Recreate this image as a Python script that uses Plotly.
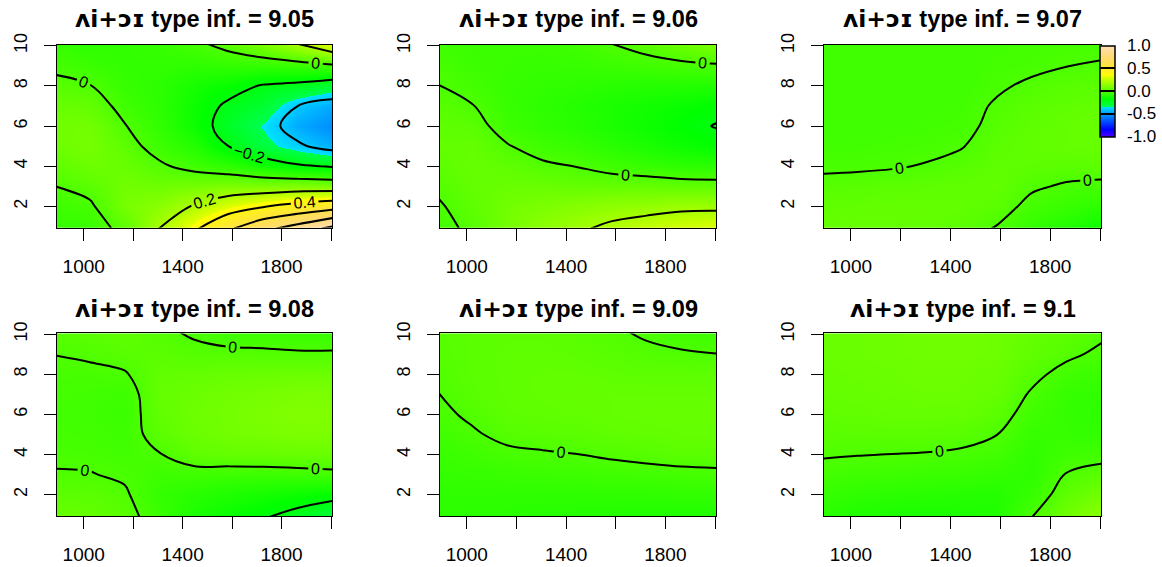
import colorsys
import plotly.graph_objects as go

# Grid on which the fitted surfaces are tabulated
x_vals = [885, 1025, 1165, 1305, 1445, 1585, 1725, 1865, 2005]
y_vals = [0.9, 2, 3, 4, 5, 6, 7, 8, 9, 10.1]

title_prefix = "ʌi+ɔɪ"
title_values = ["9.05", "9.06", "9.07", "9.08", "9.09", "9.1"]

# rows follow y_vals, columns follow x_vals
z_905 = [
    [-0.06, -0.05, 0.03, 0.20, 0.37, 0.57, 0.75, 0.88, 1.05],
    [-0.035, -0.015, 0.09, 0.13, 0.21, 0.31, 0.39, 0.46, 0.52],
    [0.00, 0.03, 0.08, 0.07, 0.086, 0.10, 0.10, 0.11, 0.10],
    [0.04, 0.07, 0.06, 0.015, -0.03, -0.067, -0.125, -0.18, -0.21],
    [0.07, 0.09, 0.035, -0.035, -0.09, -0.20, -0.30, -0.38, -0.45],
    [0.08, 0.08, 0.005, -0.06, -0.14, -0.25, -0.34, -0.46, -0.53],
    [0.06, 0.05, -0.03, -0.07, -0.14, -0.22, -0.27, -0.40, -0.46],
    [0.025, 0.003, -0.05, -0.07, -0.12, -0.155, -0.21, -0.23, -0.28],
    [-0.02, -0.04, -0.06, -0.06, -0.07, -0.06, -0.06, -0.05, -0.02],
    [-0.05, -0.07, -0.06, -0.05, -0.02, 0.03, 0.10, 0.20, 0.33],
]
z_906 = [
    [-0.03, 0.02, 0.09, 0.14, 0.18, 0.23, 0.27, 0.30, 0.32],
    [-0.01, 0.04, 0.08, 0.10, 0.12, 0.14, 0.15, 0.17, 0.17],
    [0.015, 0.05, 0.06, 0.06, 0.05, 0.05, 0.05, 0.04, 0.04],
    [0.035, 0.055, 0.04, 0.015, -0.002, -0.03, -0.05, -0.07, -0.08],
    [0.045, 0.05, 0.005, -0.035, -0.05, -0.08, -0.11, -0.14, -0.16],
    [0.04, 0.03, -0.035, -0.06, -0.08, -0.11, -0.14, -0.17, -0.205],
    [0.025, 0.002, -0.05, -0.07, -0.09, -0.11, -0.13, -0.15, -0.17],
    [0.001, -0.02, -0.05, -0.06, -0.07, -0.08, -0.09, -0.09, -0.10],
    [-0.015, -0.035, -0.045, -0.05, -0.05, -0.04, -0.03, -0.02, -0.01],
    [-0.03, -0.04, -0.04, -0.04, -0.03, 0.0, 0.03, 0.07, 0.10],
]
z_907 = [
    [0.05, 0.055, 0.05, 0.045, 0.03, -0.005, -0.06, -0.10, -0.15],
    [0.04, 0.045, 0.05, 0.05, 0.045, 0.03, -0.02, -0.045, -0.07],
    [0.02, 0.025, 0.03, 0.035, 0.04, 0.045, 0.01, -0.008, -0.018],
    [-0.012, -0.01, -0.005, 0.004, 0.02, 0.04, 0.035, 0.03, 0.035],
    [-0.025, -0.025, -0.02, -0.015, -0.003, 0.03, 0.045, 0.05, 0.055],
    [-0.03, -0.03, -0.028, -0.025, -0.02, 0.02, 0.04, 0.05, 0.06],
    [-0.03, -0.03, -0.03, -0.03, -0.025, 0.008, 0.03, 0.04, 0.05],
    [-0.03, -0.03, -0.03, -0.03, -0.03, -0.01, 0.012, 0.025, 0.03],
    [-0.03, -0.03, -0.03, -0.03, -0.03, -0.02, -0.015, -0.001, 0.007],
    [-0.03, -0.03, -0.03, -0.03, -0.03, -0.025, -0.02, -0.015, -0.02],
]
z_908 = [
    [0.06, 0.05, 0.03, -0.04, -0.11, -0.15, -0.19, -0.24, -0.30],
    [0.035, 0.03, 0.01, -0.055, -0.08, -0.10, -0.12, -0.14, -0.16],
    [0.005, 0.003, -0.01, -0.035, -0.03, -0.035, -0.035, -0.03, -0.02],
    [-0.012, -0.015, -0.025, -0.004, 0.04, 0.05, 0.055, 0.06, 0.06],
    [-0.02, -0.025, -0.035, 0.03, 0.065, 0.08, 0.09, 0.10, 0.10],
    [-0.022, -0.03, -0.04, 0.045, 0.07, 0.085, 0.10, 0.115, 0.11],
    [-0.02, -0.025, -0.035, 0.05, 0.065, 0.08, 0.09, 0.10, 0.10],
    [-0.014, -0.015, -0.006, 0.045, 0.05, 0.06, 0.065, 0.07, 0.07],
    [0.001, 0.01, 0.025, 0.03, 0.02, 0.02, 0.015, 0.01, 0.01],
    [0.02, 0.03, 0.04, 0.015, -0.01, -0.04, -0.04, -0.05, -0.05],
]
z_909 = [
    [-0.07, -0.075, -0.08, -0.085, -0.09, -0.095, -0.10, -0.10, -0.10],
    [-0.065, -0.065, -0.065, -0.065, -0.065, -0.065, -0.065, -0.06, -0.06],
    [-0.055, -0.05, -0.045, -0.04, -0.035, -0.03, -0.025, -0.02, -0.015],
    [-0.045, -0.03, -0.015, -0.007, -0.001, 0.01, 0.02, 0.03, 0.03],
    [-0.03, -0.008, 0.018, 0.025, 0.03, 0.04, 0.045, 0.05, 0.05],
    [-0.015, 0.012, 0.035, 0.04, 0.045, 0.05, 0.055, 0.055, 0.055],
    [-0.001, 0.025, 0.04, 0.045, 0.05, 0.05, 0.05, 0.05, 0.05],
    [0.01, 0.03, 0.04, 0.045, 0.045, 0.04, 0.035, 0.035, 0.035],
    [0.015, 0.03, 0.04, 0.04, 0.035, 0.025, 0.015, 0.008, 0.001],
    [0.02, 0.03, 0.035, 0.035, 0.025, 0.01, -0.01, -0.03, -0.04],
]
z_910 = [
    [-0.08, -0.10, -0.11, -0.115, -0.11, -0.10, -0.002, 0.08, 0.14],
    [-0.05, -0.065, -0.075, -0.08, -0.085, -0.09, -0.05, 0.04, 0.08],
    [-0.02, -0.03, -0.035, -0.04, -0.045, -0.055, -0.07, 0.004, 0.03],
    [0.005, 0.002, -0.001, -0.004, -0.012, -0.025, -0.065, -0.03, -0.025],
    [0.025, 0.03, 0.03, 0.03, 0.025, 0.001, -0.05, -0.05, -0.06],
    [0.04, 0.045, 0.05, 0.05, 0.05, 0.03, -0.03, -0.055, -0.07],
    [0.05, 0.055, 0.06, 0.065, 0.065, 0.05, -0.008, -0.05, -0.065],
    [0.055, 0.06, 0.065, 0.07, 0.07, 0.06, 0.02, -0.025, -0.045],
    [0.06, 0.065, 0.07, 0.075, 0.075, 0.07, 0.04, 0.015, -0.015],
    [0.06, 0.065, 0.07, 0.075, 0.075, 0.07, 0.05, 0.035, 0.015],
]
surfaces = [z_905, z_906, z_907, z_908, z_909, z_910]

x_ticks = [1000, 1200, 1400, 1600, 1800, 2000]
x_ticktext = ["1000", "", "1400", "", "1800", ""]
y_ticks = [2, 4, 6, 8, 10]
cbar_ticks = [-1.0, -0.5, 0.0, 0.5, 1.0]


def hsv_hex(h, s=1.0, v=1.0):
    r, g, b = colorsys.hsv_to_rgb(h, s, v)
    return "#%02x%02x%02x" % (round(r * 255), round(g * 255), round(b * 255))


def topo_scale(steps=12):
    """Three-part topographic palette (blue-cyan, green-yellow, yellow-tan)."""
    stops = []
    eps = 1e-6
    for i in range(steps + 1):
        f = i / steps
        stops.append([f / 3, hsv_hex((43 - 12 * f) / 60)])
    for i in range(steps + 1):
        f = i / steps
        stops.append([1 / 3 + f / 3 + (eps if i == 0 else 0), hsv_hex((23 - 12 * f) / 60)])
    for i in range(steps + 1):
        f = i / steps
        pos = 2 / 3 + f / 3 + (eps if i == 0 else 0)
        stops.append([min(pos, 1.0), hsv_hex((10 - 4 * f) / 60, 1 - 0.7 * f)])
    stops[-1][0] = 1.0
    return stops


W, H = 1162, 567
col_px = [(57, 332), (440, 716), (824, 1101)]
row_px = [(45, 227.7), (333.3, 516)]
title_y_px = [19, 309]
cbar_px = dict(left=1100, top=45.7, bottom=136.7, width=15)
FONT = "Liberation Sans, Arial, Helvetica, sans-serif"
IPA_FONT = "DejaVu Sans, Liberation Sans, sans-serif"

fig = go.Figure()
layout = {}
for k, z in enumerate(surfaces):
    r, c = divmod(k, 3)
    ax = "" if k == 0 else str(k + 1)
    fig.add_trace(go.Heatmap(
        x=x_vals, y=y_vals, z=z, zsmooth="best", coloraxis="coloraxis",
        xaxis="x" + ax, yaxis="y" + ax, hoverinfo="skip",
    ))
    fig.add_trace(go.Contour(
        x=x_vals, y=y_vals, z=z, xaxis="x" + ax, yaxis="y" + ax,
        autocontour=False,
        contours=dict(start=-1.0, end=1.0, size=0.2, coloring="none",
                      showlabels=True,
                      labelfont=dict(family=FONT, size=16, color="black")),
        line=dict(color="black", width=2, smoothing=1.0),
        showscale=False, hoverinfo="skip",
    ))
    x0, x1 = col_px[c]
    y0, y1 = row_px[r]
    common = dict(showline=True, linecolor="black", linewidth=1, mirror=True,
                  ticks="outside", ticklen=12, tickwidth=1, tickcolor="black",
                  showgrid=False, zeroline=False)
    layout["xaxis" + ax] = dict(
        domain=[x0 / W, x1 / W], range=[892, 2004], anchor="y" + ax,
        tickvals=x_ticks, ticktext=x_ticktext, ticklabelstandoff=9,
        tickfont=dict(family=FONT, size=19, color="black"), **common)
    layout["yaxis" + ax] = dict(
        domain=[1 - y1 / H, 1 - y0 / H], range=[0.94, 10.04], anchor="x" + ax,
        tickvals=y_ticks, ticktext=[str(v) for v in y_ticks], tickangle=-90,
        ticklabelstandoff=10,
        tickfont=dict(family=FONT, size=18, color="black"), **common)

annotations = []
for k, val in enumerate(title_values):
    r, c = divmod(k, 3)
    x0, x1 = col_px[c]
    text = "<b><span style='font-family:%s'>%s</span> type inf. = %s</b>" % (
        IPA_FONT, title_prefix, val)
    annotations.append(dict(
        text=text, x=(x0 + x1) / 2 / W, y=1 - title_y_px[r] / H,
        xref="paper", yref="paper", xanchor="center", yanchor="middle",
        showarrow=False, font=dict(family=FONT, size=23.5, color="black")))

# colour-bar labels, set a little away from the bar as in base graphics
for v in cbar_ticks:
    py = cbar_px["top"] + (1 - v) / 2 * (cbar_px["bottom"] - cbar_px["top"])
    annotations.append(dict(
        text="%.1f" % v, x=(cbar_px["left"] + cbar_px["width"] + 10) / W,
        y=1 - py / H, xref="paper", yref="paper", xanchor="left",
        yanchor="middle", showarrow=False,
        font=dict(family=FONT, size=17, color="black")))

fig.update_layout(
    width=W, height=H,
    margin=dict(l=0, r=0, t=0, b=0, pad=0, autoexpand=False),
    paper_bgcolor="white", plot_bgcolor="white", showlegend=False,
    annotations=annotations,
    coloraxis=dict(
        colorscale=topo_scale(), cmin=-1, cmax=1,
        colorbar=dict(
            x=cbar_px["left"] / W, xanchor="left",
            y=1 - (cbar_px["top"] + cbar_px["bottom"]) / 2 / H, yanchor="middle",
            thickness=cbar_px["width"], thicknessmode="pixels",
            len=cbar_px["bottom"] - cbar_px["top"], lenmode="pixels",
            xpad=0, ypad=0, outlinewidth=1.5, outlinecolor="black",
            tickvals=cbar_ticks, showticklabels=False,
            ticks="inside", ticklen=15, tickwidth=1.5, tickcolor="black",
        ),
    ),
    **layout,
)

fig.write_html("out.html")
